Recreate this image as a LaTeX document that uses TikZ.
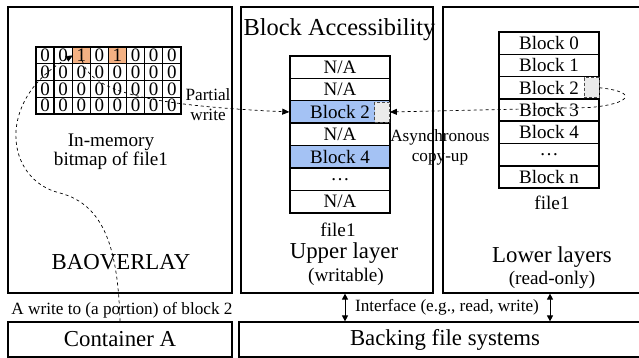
\documentclass[tikz,border=0pt]{standalone}
\usepackage{fontspec}
\setmainfont{Liberation Serif}
\usetikzlibrary{arrows.meta}

\definecolor{bitorange}{HTML}{F4B183}
\definecolor{blkblue}{HTML}{A4C2F4}

\tikzset{
  panel/.style={draw, line width=1.2pt, inner sep=0pt},
  bitcell/.style={draw, line width=1.4pt, minimum width=18.1pt, minimum height=16.75pt, inner sep=0pt, font=\fontsize{19}{19}\selectfont},
  blk/.style={draw, line width=1.4pt, minimum width=100pt, minimum height=22.4pt, inner sep=0pt, font=\fontsize{19}{19}\selectfont},
  ghost/.style={draw=black!70, densely dashed, fill=black!8, line width=0.8pt, minimum width=15pt, minimum height=20pt, inner sep=0pt},
  flow/.style={dashed, line width=0.7pt, -{Triangle[length=7pt,width=6pt]}},
  dbl/.style={line width=0.9pt, {Triangle[length=6pt,width=6pt]}-{Triangle[length=6pt,width=6pt]}},
  big/.style={font=\fontsize{22.8}{24}\selectfont},
  mid/.style={font=\fontsize{19.2}{19}\selectfont, align=center},
  small/.style={font=\fontsize{17.2}{20}\selectfont, align=center},
}

\begin{document}
\begin{tikzpicture}[x=1pt,y=-1pt]
        \useasboundingbox (0,0) rectangle (639,358);
        \clip (0,0) rectangle (639,358);

        % the panels
        \node[panel, minimum width=224pt, minimum height=286pt] (baov) at (120,150) {};
        \node[panel, minimum width=192pt, minimum height=286pt] (upper) at (337,150) {};
        \node[panel, minimum width=210pt, minimum height=286pt] (lower) at (548,150) {};
        \node[panel, big, minimum width=224pt, minimum height=35pt] (conta) at (120,339.5) {Container A};
        \node[panel, big, minimum width=412pt, minimum height=35pt] (backing) at (445,339.5) {Backing file systems};

        % the in-memory bitmap (first row has the two set bits)
        \foreach \v/\f [count=\c] in {0/white,0/white,1/bitorange,0/white,1/bitorange,0/white,0/white,0/white}
            \node[bitcell, fill=\f] (b-1-\c) at ({36+18.1*(\c-0.5)},{47+16.75*0.5}) {\v};
        \foreach \r in {2,...,4}
          \foreach \c in {1,...,8}
            \node[bitcell] (b-\r-\c) at ({36+18.1*(\c-0.5)},{47+16.75*(\r-0.5)}) {0};

        % upper layer blocks
        \node[blk] (u0) at (340,67.2) {N/A};
        \node[blk] (u1) at (340,89.6) {N/A};
        \node[blk, fill=blkblue] (u2) at (340,112) {Block 2\hspace{8pt}};
        \node[blk] (u3) at (340,134.4) {N/A};
        \node[blk, fill=blkblue] (u4) at (340,156.8) {Block 4};
        \node[blk] (u5) at (340,179.2) {\ldots};
        \node[blk] (u6) at (340,201.6) {N/A};
        \node[ghost] (ucopy) at (382,112) {};

        % lower layer blocks
        \node[blk] (l0) at (549,43.15) {Block 0};
        \node[blk] (l1) at (549,65.45) {Block 1};
        \node[blk] (l2) at (549,87.75) {Block 2\hspace{8pt}};
        \node[blk] (l3) at (549,110.05) {Block 3};
        \node[blk] (l4) at (549,132.35) {Block 4};
        \node[blk] (l5) at (549,154.65) {\ldots};
        \node[blk] (l6) at (549,176.95) {Block n};
        \node[ghost] (lcopy) at (591.5,87.75) {};

        % the texts
        \node[big, font=\fontsize{24.4}{26}\selectfont] (title) at (339.5,30) {Block Accessibility};
        \node[big] (baolabel) at (121,262) {BAOVERLAY};
        \node[mid] (bmlabel) at (111,152) {In-memory\\bitmap of file1};
        \node[mid] (ufile) at (338,230) {file1};
        \node[big] (ulabel) at (344,253) {Upper layer};
        \node[mid] (uwrite) at (346,277) {(writable)};
        \node[mid] (lfile) at (552,203) {file1};
        \node[big] (llabel) at (552,257) {Lower layers};
        \node[mid] (lread) at (552,280) {(read-only)};
        \node[small] (pw) at (208,105) {Partial\\write};
        \node[small] (acu) at (440,147) {Asynchronous\\copy-up};
        \node[small] (wlabel) at (122,310) {A write to (a portion) of block 2};
        \node[small] (iflabel) at (447,307) {Interface (e.g., read, write)};

        % draw the arrows
        \draw[flow] (b-1-3.center) .. controls (85,90) and (140,105) .. (u2.west);
        \draw[flow] (lcopy.east) .. controls (640,92) and (630,104) .. (590,107.5) -- (ucopy.east);
        \draw[flow] (conta.north) .. controls (118,250) and (105,205) .. (60,193)
                    .. controls (5,180) and (-5,100) .. (b-1-2.east);

        \coordinate (if1) at (345,0);
        \coordinate (if2) at (550,0);
        \draw[dbl] (upper.south -| if1) -- (backing.north -| if1);
        \draw[dbl] (lower.south -| if2) -- (backing.north -| if2);

    \end{tikzpicture}
\end{document}
